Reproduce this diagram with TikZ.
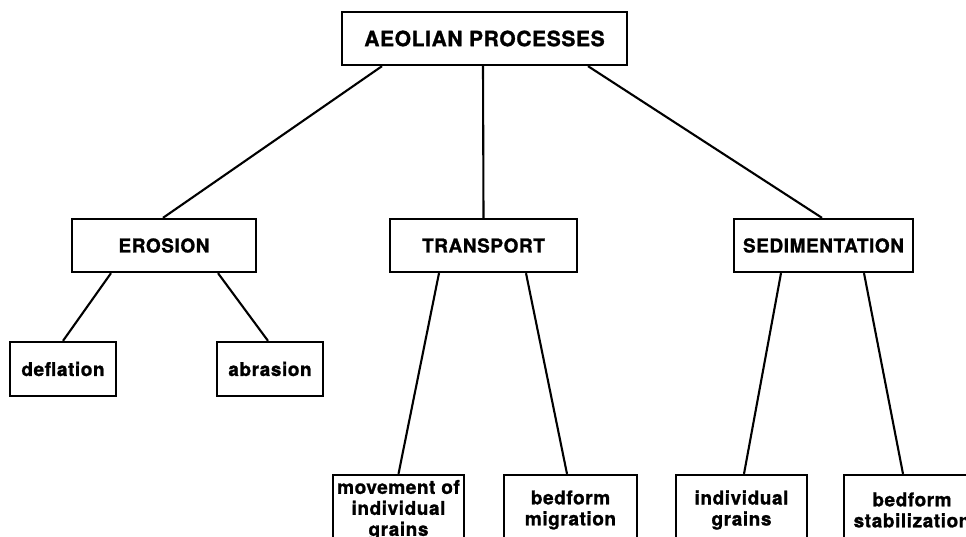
\documentclass[tikz,border=0pt]{standalone}
\usepackage{fontspec}
\setmainfont{TeX Gyre Heros}[BoldFeatures = {FakeBold = 1.2, LetterSpace = 3}]
\usepackage{tikz}
\usetikzlibrary{positioning}
\tikzset{box/.style = {draw, line width = 2.3pt, inner sep = 0, align = center,
                       font = \bfseries\fontsize{19}{21}\selectfont}}
\tikzset{link/.style = {line width = 2.1pt}}

\begin{document}
\begin{tikzpicture}[x = 1pt, y = -1pt]
    \useasboundingbox (0, 0) rectangle (966, 537);
    \clip (0, 0) rectangle (966, 537);

    \node [box, minimum width = 285, minimum height = 53,
           font = \bfseries\fontsize{21}{23}\selectfont] (aeolian) at (484.5, 38.5) {AEOLIAN PROCESSES};

    \node [box, minimum width = 184, minimum height = 53] (erosion) at (164, 245.5) {EROSION};
    \node [box, minimum width = 187, minimum height = 53] (transport) at (483.5, 245.5) {TRANSPORT};
    \node [box, minimum width = 179, minimum height = 53] (sediment) at (823.5, 245.5) {SEDIMENTATION};

    \node [box, minimum width = 106, minimum height = 54] (deflation) at (63, 369) {deflation};
    \node [box, minimum width = 106, minimum height = 54] (abrasion) at (270, 369) {abrasion};

    \node [box, minimum width = 131, minimum height = 70] (movement) at (398.5, 510) {movement of\\individual\\grains};
    \node [box, minimum width = 133, minimum height = 70] (migration) at (570.5, 510) {bedform\\migration};
    \node [box, minimum width = 131, minimum height = 70] (grains) at (741.5, 510) {individual\\grains};
    \node [box, minimum width = 136, minimum height = 70] (stabil) at (912, 510) {bedform\\stabilization};

    \draw [link] ([xshift = -102.5pt] aeolian.south) -- ([xshift = -1pt] erosion.north);
    \draw [link] ([xshift = -1.5pt] aeolian.south) -- (transport.north);
    \draw [link] ([xshift = 103.5pt] aeolian.south) -- ([xshift = -1.5pt] sediment.north);

    \draw [link] ([xshift = -53pt] erosion.south) -- (deflation.north);
    \draw [link] ([xshift = 54pt] erosion.south) -- ([xshift = -2pt] abrasion.north);

    \draw [link] ([xshift = -44.5pt] transport.south) -- (movement.north);
    \draw [link] ([xshift = 42.5pt] transport.south) -- ([xshift = -3.5pt] migration.north);

    \draw [link] ([xshift = -42.5pt] sediment.south) -- ([xshift = 2.5pt] grains.north);
    \draw [link] ([xshift = 40.5pt] sediment.south) -- ([xshift = -9pt] stabil.north);
  \end{tikzpicture}
\end{document}
